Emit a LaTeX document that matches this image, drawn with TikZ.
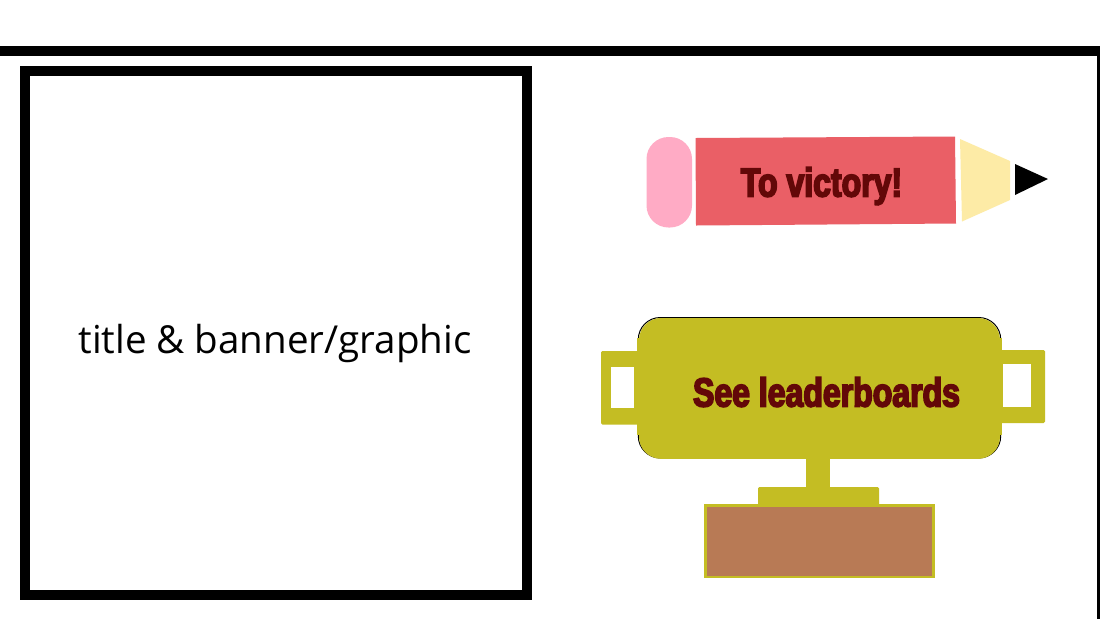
\documentclass[tikz,border=0pt]{standalone}
\usepackage{fontspec}
\setmainfont{Open Sans}
\newfontfamily\impactish[FakeBold=4.2,FakeStretch=0.79]{Liberation Sans Bold}
\definecolor{trophy}{HTML}{C4BD23}
\definecolor{plinth}{HTML}{B87A55}
\definecolor{darkred}{HTML}{630808}
\definecolor{pencilred}{HTML}{EA5F66}
\definecolor{eraser}{HTML}{FFABC5}
\definecolor{wood}{HTML}{FDEBA6}
\tikzset{
  holepart/.style={fill=white,draw=none},
  poster/.style={text=darkred,inner sep=0pt,anchor=base,font=\impactish\fontsize{30.4pt}{36pt}\selectfont}
}
\begin{document}
\begin{tikzpicture}[x=0.75pt,y=-0.75pt]
\useasboundingbox (0,0) rectangle (1100,619);
\fill[white] (0,0) rectangle (1100,619);
% frame
\fill[black] (0,46) rectangle (1100,56);
\fill[black] (1097,46) rectangle (1100,619);
% title box
\draw[black,line width=7.5pt] (25,71) rectangle (527,595);
\node[inner sep=0pt,anchor=base,font=\fontsize{28.9pt}{34pt}\selectfont] (title) at (275,353) {title \& banner/graphic};
% pencil
\fill[eraser,rounded corners=16.5pt] (646.5,137) rectangle (692,227.5);
\fill[pencilred] (695.5,138) -- (955,136.5) -- (956,223.5) -- (696,225.5) -- cycle;
\fill[wood] (960,139) -- (1010,161) -- (1010,200) -- (962,221.5) -- cycle;
\fill[black] (1015,164) -- (1048,179) -- (1015,195) -- cycle;
\node[poster] (pencil) at (821.5,196.5) {To victory!};
% trophy
\draw[black,line width=0.75pt,rounded corners=16.5pt] (638.3,317.5) rectangle (1000.7,458);
\fill[trophy,rounded corners=16.5pt] (639,318) rectangle (1000,458.8);
\fill[trophy] (637,338) rectangle (1002,435);
\fill[trophy] (660,318) rectangle (980,458.8);
\fill[trophy,rounded corners=1pt] (601,351) rectangle (640,424.5);
\fill[holepart] (611,367) rectangle (634,408);
\fill[trophy,rounded corners=1pt] (999,350) rectangle (1045,423);
\fill[holepart] (1003,364) rectangle (1031,407);
\fill[trophy] (806,458) rectangle (830,488);
\fill[trophy,rounded corners=1pt] (758,487) rectangle (879,506);
\draw[draw=trophy,fill=plinth,line width=2pt] (705.2,505.5) rectangle (933.8,577);
\node[poster] (cup) at (826.5,406.5) {See leaderboards};
\end{tikzpicture}
\end{document}
